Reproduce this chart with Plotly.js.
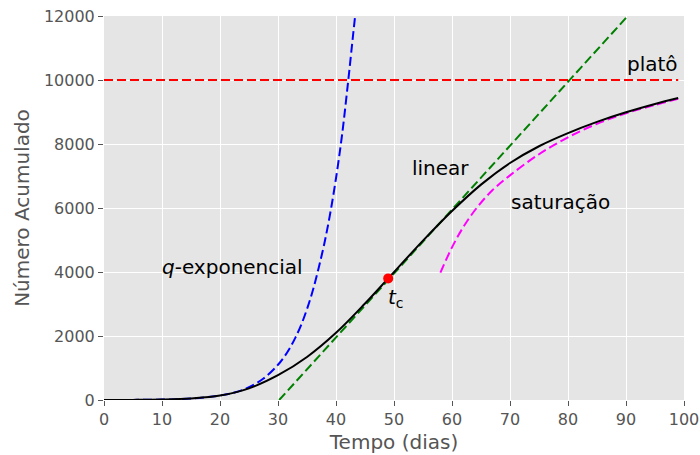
<!DOCTYPE html>
<html><head><meta charset="utf-8">
<script src="https://cdn.plot.ly/plotly-3.0.1.min.js"></script>
<style>body{margin:0;}#c{width:700px;height:455px;}</style>
</head><body><div id="c"></div>
<script>
// Black curve (accumulated number)
var tCurve = [0, 5, 10, 15, 20, 25, 30, 35, 40, 45, 49, 55, 60, 65, 70, 75, 80, 85, 90, 95, 99];
var nCurve = [0, 3, 15, 50, 140, 365, 775, 1345, 2100, 3015, 3800, 4980, 5905, 6730, 7405, 7930, 8340, 8690, 8990, 9250, 9435];
// q-exponential
var tQ = [0, 5, 10, 15, 20, 22.5, 25, 27.5, 30, 31, 32, 33, 34, 35, 36, 37, 38, 39, 40, 41, 42, 43, 43.3];
var nQ = [0, 3, 12, 45, 140, 235, 400, 670, 1100, 1330, 1610, 1950, 2350, 2840, 3420, 4120, 4900, 5830, 6930, 8220, 9800, 11500, 12000];
// linear regime
var tLin = [30.2, 90.3];
var nLin = [0, 12000];
// plateau
var tPlat = [0, 99];
var nPlat = [10000, 10000];
// saturation
var tSat = [58, 60, 62, 64.25, 67, 70, 75, 80, 85, 90, 95, 99];
var nSat = [3980, 4770, 5420, 6000, 6560, 7020, 7680, 8210, 8630, 8960, 9220, 9410];
// crossover point
var tC = [49];
var nC = [3800];

var font = "DejaVu Sans, sans-serif";
var dashPat = '9px,4px';
var traces = [
  {x: tQ, y: nQ, mode: 'lines', line: {color: '#0000ff', width: 2, dash: dashPat, shape: 'spline', smoothing: 1}},
  {x: tPlat, y: nPlat, mode: 'lines', line: {color: '#ff0000', width: 2, dash: dashPat}},
  {x: tLin, y: nLin, mode: 'lines', line: {color: '#008000', width: 2, dash: dashPat}},
  {x: tSat, y: nSat, mode: 'lines', line: {color: '#ff00ff', width: 2, dash: dashPat, shape: 'spline', smoothing: 1}},
  {x: tCurve, y: nCurve, mode: 'lines', line: {color: '#000000', width: 2, shape: 'spline', smoothing: 1}},
  {x: tC, y: nC, mode: 'markers', marker: {color: '#ff0000', size: 10}}
];
var ann = function(x, y, text){ return {x: x, y: y, text: text, showarrow: false, xanchor: 'left', yanchor: 'middle', font: {family: font, size: 20, color: '#000'}}; };
var layout = {
  width: 700, height: 455,
  margin: {l: 104, r: 16, t: 16, b: 55},
  paper_bgcolor: '#ffffff', plot_bgcolor: '#e5e5e5',
  showlegend: false,
  font: {family: font},
  xaxis: {range: [0, 100], dtick: 10, tick0: 0, gridcolor: '#ffffff', gridwidth: 1, zeroline: false,
    ticks: 'outside', ticklen: 5, tickcolor: '#555555', tickfont: {family: font, size: 16, color: '#555555'},
    title: {text: 'Tempo (dias)', font: {family: font, size: 20, color: '#555555'}, standoff: 6}},
  yaxis: {range: [0, 12000], dtick: 2000, tick0: 0, tickformat: 'd', gridcolor: '#ffffff', gridwidth: 1, zeroline: false,
    ticks: 'outside', ticklen: 5, tickcolor: '#555555', tickfont: {family: font, size: 16, color: '#555555'},
    title: {text: 'Número Acumulado', font: {family: font, size: 20, color: '#555555'}, standoff: 8}},
  annotations: [
    ann(9.6, 4150, '<i>q</i>-exponencial'),
    ann(52.8, 7250, 'linear'),
    ann(69.9, 6180, 'saturação'),
    ann(89.9, 10500, 'platô'),
    ann(48.7, 3200, '<i>t</i><sub>c</sub>')
  ]
};
Plotly.newPlot('c', traces, layout, {displayModeBar: false, staticPlot: true});
</script>
</body></html>
